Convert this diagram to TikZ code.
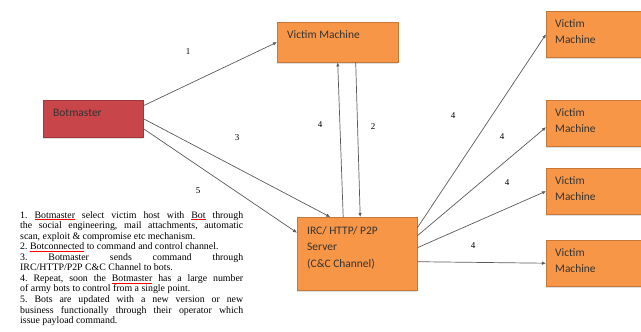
\documentclass[tikz,border=0pt]{standalone}
\usepackage{fontspec}
\setmainfont{Liberation Serif}
\newfontfamily\boxfont{Carlito}
\usetikzlibrary{positioning, arrows.meta, shadows}

\definecolor{botred}{HTML}{C8454A}
\definecolor{vicorange}{HTML}{F79646}
\definecolor{linkgray}{HTML}{5A5A5A}

% text set at the top left of a box
\newcommand{\toptext}[3]{\parbox[t][#2][t]{#1}{#3}}
% word marked by the spell checker
\newcommand{\spell}[1]{{\color{red}\underline{\color{black}#1}}}

\tikzset{
  box/.style={fill=#1, draw=#1!80!black, line width=0.4bp, anchor=north west,
    inner xsep=10bp, inner ysep=8bp, text=black!80,
    font=\boxfont\fontsize{11.5}{16.5}\selectfont,
    drop shadow={shadow xshift=0bp, shadow yshift=-2bp, opacity=0.25}},
  link/.style={->, draw=linkgray, line width=0.7bp},
  num/.style={font=\fontsize{9}{9}\selectfont, inner sep=1bp},
}

\begin{document}
\begin{tikzpicture}[x=1bp, y=-1bp, >={Latex[length=4bp, width=3.5bp]}]
    \useasboundingbox (0,0) rectangle (641,331);

    % Botmaster and the first victim
    \node[box=botred, inner ysep=9bp] (bot) at (43,100) {\toptext{80bp}{19bp}{Botmaster}};
    \node[box=vicorange] (vtop) at (277,22) {\toptext{101bp}{24bp}{Victim Machine}};

    % C&C server
    \node[box=vicorange, inner ysep=9bp] (server) at (297,217)
        {\toptext{100bp}{55bp}{IRC/ HTTP/ P2P\\Server\\(C\&C Channel)}};

    % Victims on the right
    \node[box=vicorange, inner xsep=9bp] (v1) at (546,11) {\toptext{92bp}{30bp}{Victim\\Machine}};
    \node[box=vicorange, inner xsep=9bp] (v2) at (546,100) {\toptext{92bp}{30bp}{Victim\\Machine}};
    \node[box=vicorange, inner xsep=9bp] (v3) at (546,168) {\toptext{92bp}{30bp}{Victim\\Machine}};
    \node[box=vicorange, inner xsep=9bp] (v4) at (546,240) {\toptext{92bp}{30bp}{Victim\\Machine}};

    % Connectors
    \draw[link] ([yshift=13bp]bot.east) -- (vtop.west);
    \draw[link] (bot.east) -- ([xshift=-27bp]server.north);
    \draw[link] ([yshift=-10bp]bot.east) -- ([yshift=21bp]server.west);
    \draw[link] ([xshift=-14bp]server.north) -- (vtop.south);
    \draw[link] ([xshift=18bp]vtop.south) -- ([xshift=3bp]server.north);
    \draw[link] ([yshift=26bp]server.east) -- (v1.west);
    \draw[link] ([yshift=18bp]server.east) -- ([yshift=-4bp]v2.west);
    \draw[link] ([yshift=6bp]server.east) -- (v3.west);
    \draw[link] ([yshift=-8bp]server.east) -- (v4.west);

    % Step numbers
    \node[num] (n1) at (188,52) {1};
    \node[num] (n3) at (237,138) {3};
    \node[num] (n5) at (198,191) {5};
    \node[num] (n4a) at (320,125) {4};
    \node[num] (n2) at (373,127) {2};
    \node[num] (n4b) at (453,116) {4};
    \node[num] (n4c) at (502,137) {4};
    \node[num] (n4d) at (507,183) {4};
    \node[num] (n4e) at (473,246) {4};

    % Steps
    \node[anchor=north west, inner sep=0pt, text width=223bp, align=justify,
        font=\fontsize{9.9}{10.6}\selectfont\frenchspacing] (steps) at (20,211) {%
        1. \spell{Botmaster} select victim host with \spell{Bot} through\linebreak
        the social engineering, mail attachments, automatic\linebreak
        scan, exploit \& compromise etc mechanism.\\
        2. \spell{Botconnected} to command and control channel.\\
        3. Botmaster sends command through\linebreak
        IRC/HTTP/P2P C\&C Channel to bots.\\
        4. Repeat, soon the \spell{Botmaster} has a large number\linebreak
        of army bots to control from a single point.\\
        5. Bots are updated with a new version or new\linebreak
        business functionally through their operator which\linebreak
        issue payload command.};
\end{tikzpicture}
\end{document}
